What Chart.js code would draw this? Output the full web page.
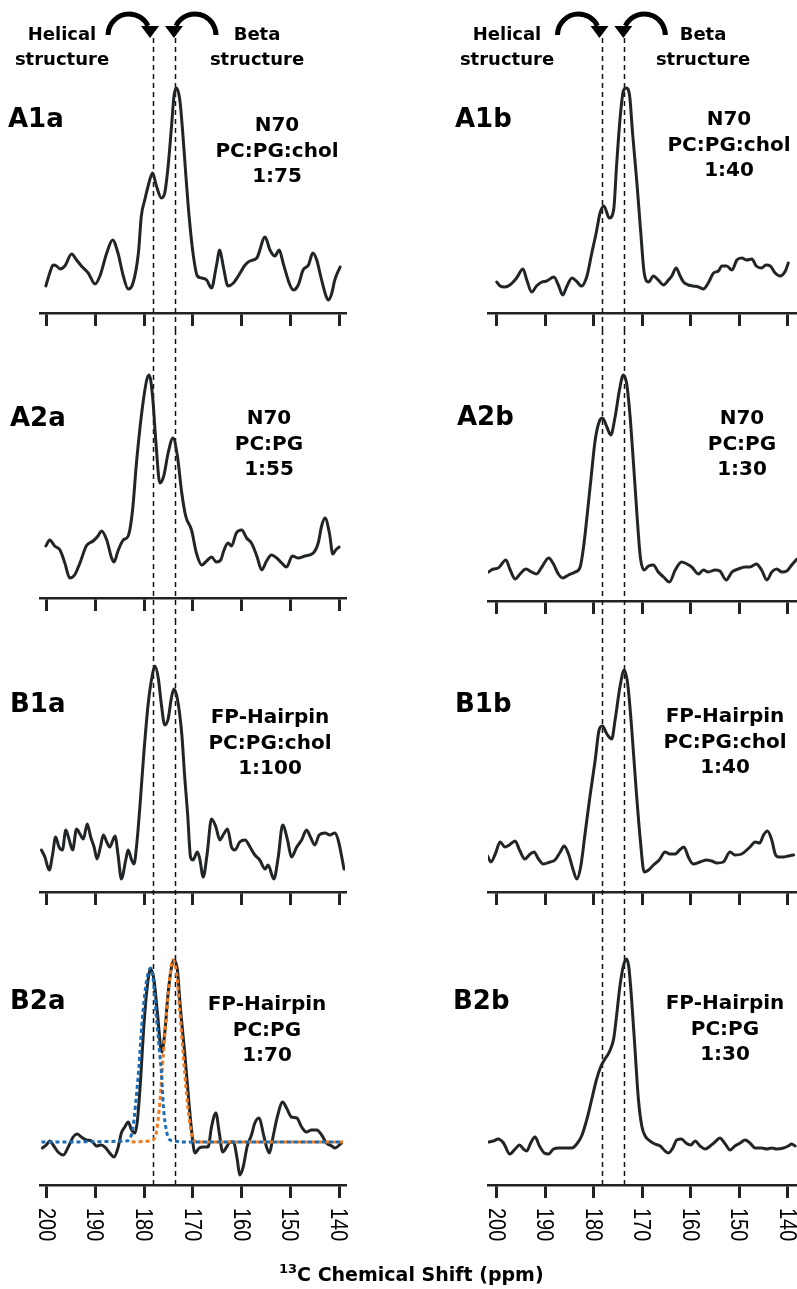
<!DOCTYPE html>
<html>
<head>
<meta charset="utf-8">
<script src="https://cdn.jsdelivr.net/npm/chart.js@4.4.1/dist/chart.umd.min.js"></script>
<style>
  body { margin: 0; background: #fff; width: 797px; height: 1289px; position: relative; overflow: hidden; }
  canvas { position: absolute; }
  .t { position: absolute; font-family: "DejaVu Sans", sans-serif; font-weight: bold; color: #000; white-space: nowrap; z-index: 2; }
  .hd { font-size: 18px; line-height: 25px; width: 220px; text-align: center; }
  .lbl { font-size: 26px; line-height: 26px; }
  .note { font-size: 20px; line-height: 25.5px; width: 220px; text-align: center; }
  .axt { font-size: 19px; line-height: 19px; }
</style>
</head>
<body>

<div class="t hd" style="left:-48px;top:21px">Helical<br>structure</div>
<div class="t hd" style="left:147px;top:21px">Beta<br>structure</div>
<div class="t hd" style="left:397px;top:21px">Helical<br>structure</div>
<div class="t hd" style="left:593px;top:21px">Beta<br>structure</div>

<div class="t lbl" style="left:8px;top:105px">A1a</div>
<div class="t lbl" style="left:455px;top:105px">A1b</div>
<div class="t lbl" style="left:10px;top:404px">A2a</div>
<div class="t lbl" style="left:457px;top:403px">A2b</div>
<div class="t lbl" style="left:10px;top:690px">B1a</div>
<div class="t lbl" style="left:455px;top:690px">B1b</div>
<div class="t lbl" style="left:10px;top:987px">B2a</div>
<div class="t lbl" style="left:453px;top:987px">B2b</div>

<div class="t note" style="left:167px;top:112px">N70<br>PC:PG:chol<br>1:75</div>
<div class="t note" style="left:619px;top:106px">N70<br>PC:PG:chol<br>1:40</div>
<div class="t note" style="left:159px;top:405px">N70<br>PC:PG<br>1:55</div>
<div class="t note" style="left:632px;top:405px">N70<br>PC:PG<br>1:30</div>
<div class="t note" style="left:160px;top:704px">FP-Hairpin<br>PC:PG:chol<br>1:100</div>
<div class="t note" style="left:615px;top:703px">FP-Hairpin<br>PC:PG:chol<br>1:40</div>
<div class="t note" style="left:157px;top:991px">FP-Hairpin<br>PC:PG<br>1:70</div>
<div class="t note" style="left:615px;top:990px">FP-Hairpin<br>PC:PG<br>1:30</div>

<div class="t axt" style="left:279px;top:1265px"><span style="font-size:13px;position:relative;top:-8px">13</span>C Chemical Shift (ppm)</div>

<script>
// x axis ticks (ppm) and the two reference positions (helix / beta)
const tickValues = [200, 190, 180, 170, 160, 150, 140];
const markerShifts = [178.2, 173.7];

// A1a  N70  PC:PG:chol 1:75
const a1aShift = [200.2,199.4,198.7,198.0,197.3,196.3,194.9,193.9,192.9,191.5,190.1,189.1,187.7,186.5,185.4,184.3,183.3,182.3,181.2,180.6,179.9,179.2,178.3,177.5,176.5,175.8,175.1,174.4,173.9,173.4,172.7,172.1,171.5,170.8,170.0,169.1,168.2,167.2,166.2,165.2,164.5,163.8,162.8,161.7,160.7,159.3,158.3,156.9,155.2,154.2,153.2,152.3,151.5,150.1,149.4,148.4,147.4,146.3,145.4,144.6,143.8,142.7,142.2,141.5,140.9,139.8];
const a1aInt = [27,40,48,47,44,47,59,53,47,40,29,37,60,73,60,37,24,30,60,97,113,127,140,127,115,120,147,187,217,225,213,180,140,97,60,37,35,33,25,47,63,47,27,30,37,48,52,55,76,63,57,63,50,28,23,28,43,48,60,53,37,17,13,20,33,46];

// A1b  N70  PC:PG:chol 1:40
const a1bShift = [200.0,199.3,198.3,197.3,195.9,194.6,193.8,192.8,191.8,190.7,189.7,188.2,187.3,186.4,185.6,184.5,183.6,182.5,181.4,180.4,179.5,178.7,177.9,176.8,175.9,175.3,174.6,173.9,173.3,172.6,172.0,171.1,170.3,169.6,168.7,167.7,166.7,165.6,164.6,163.9,163.0,162.2,161.5,160.5,159.5,158.4,157.4,156.4,155.3,154.3,153.6,152.6,151.5,150.5,149.5,148.5,147.4,146.5,145.4,144.5,143.6,142.6,141.6,140.5,139.9];
const a1bInt = [31,27,26,28,35,44,33,21,27,31,32,36,28,18,26,35,32,27,37,60,80,100,107,95,103,147,193,222,225,217,180,130,80,40,31,37,33,28,33,37,45,37,31,28,27,26,24,30,40,42,47,47,43,53,55,53,54,47,45,48,47,40,37,42,50];

// A2a  N70  PC:PG 1:55
const a2aShift = [200.2,199.4,198.4,197.3,196.3,195.3,194.3,193.2,191.9,190.5,189.5,188.8,187.7,186.7,186.2,185.4,184.3,183.3,182.4,181.6,180.6,179.5,179.0,178.3,177.6,176.8,176.0,175.1,174.1,173.2,172.3,171.5,170.3,169.3,168.2,167.2,166.2,165.2,164.3,163.7,162.8,162.1,161.1,160.0,159.0,158.0,156.9,155.9,154.9,153.9,152.8,151.8,150.8,149.6,148.4,147.0,145.3,144.3,143.6,142.9,142.0,141.3,140.7,140.0];
const a2aInt = [52,58,52,48,35,20,23,35,52,57,62,67,58,40,36,47,58,62,88,135,182,218,223,202,155,115,122,145,160,142,105,82,68,45,33,37,41,36,38,47,55,52,65,68,60,55,42,28,37,43,40,35,31,42,40,42,45,55,72,80,65,44,48,51];

// A2b  N70  PC:PG 1:30
const a2bShift = [201.7,200.7,199.7,198.1,197.3,196.2,195.2,194.0,192.8,191.8,190.7,189.3,188.3,187.3,186.4,185.2,183.8,182.8,182.1,181.4,180.6,179.7,178.9,178.2,177.3,176.5,175.6,174.7,173.9,173.2,172.5,171.8,171.1,170.4,169.6,168.7,167.7,166.7,165.6,164.4,163.2,161.9,160.8,159.8,158.4,157.4,156.4,155.0,154.0,152.7,151.5,150.2,148.8,147.8,146.5,145.4,144.3,143.3,142.3,141.2,140.2,139.2,138.1];
const a2bInt = [29,32,33,41,32,22,27,32,29,27,34,43,37,27,23,26,29,34,54,84,121,161,179,183,174,166,184,211,226,217,184,137,87,44,31,35,36,29,24,19,31,39,37,34,27,31,29,31,30,21,29,32,34,34,37,31,21,29,32,29,30,36,42];

// B1a  FP-Hairpin  PC:PG:chol 1:100
const b1aShift = [201.1,200.4,199.5,198.8,198.2,197.5,196.8,196.1,195.4,194.7,193.9,193.2,192.5,191.7,191.0,190.3,189.7,189.0,188.4,187.7,187.1,186.0,185.4,184.7,183.8,183.3,182.6,182.1,181.6,180.9,180.1,179.2,178.3,177.8,177.1,176.5,175.8,175.1,174.4,173.9,173.2,172.3,171.7,171.1,170.5,170.0,169.1,168.6,167.9,167.1,166.2,165.3,164.5,163.7,162.9,162.1,161.4,160.4,159.3,158.3,157.3,156.3,155.2,154.6,153.4,152.5,151.6,150.6,149.8,148.7,147.7,146.7,145.9,145.0,144.1,142.9,141.9,140.9,140.2,139.0];
const b1aInt = [42,35,22,38,55,45,42,62,52,42,63,58,53,68,55,45,33,45,57,50,45,56,38,13,32,42,32,28,45,85,138,188,218,226,213,188,167,173,195,203,193,158,115,78,35,32,40,33,15,38,73,65,52,58,63,45,42,50,52,45,37,32,23,27,13,35,67,52,35,45,52,62,55,47,57,59,57,59,52,23];

// B1b  FP-Hairpin  PC:PG:chol 1:40
const b1bShift = [201.9,201.2,200.3,199.3,198.3,197.4,196.2,195.3,194.2,193.1,192.3,191.4,190.4,189.0,188.0,186.9,186.1,185.2,184.3,183.5,182.7,181.8,180.8,179.7,178.9,178.2,177.3,176.3,175.6,174.6,173.7,173.0,172.2,171.3,170.4,169.6,168.7,167.7,166.5,165.3,164.3,163.2,162.3,161.4,160.5,159.5,158.1,156.7,155.7,154.6,153.3,151.9,150.9,149.5,147.8,146.7,145.8,145.0,144.2,143.3,142.6,141.9,140.9,139.9,138.8];
const b1bInt = [36,30,38,50,45,47,51,42,33,38,40,33,28,30,32,40,46,38,23,13,25,58,95,132,162,166,158,153,172,205,222,208,165,105,52,20,22,27,32,40,38,38,42,45,35,28,30,32,31,29,30,40,37,38,45,50,49,57,61,52,38,35,35,36,37];

// B2a  FP-Hairpin  PC:PG 1:70, with the two fitted components
const b2aShift = [200.9,200.1,199.4,198.7,197.7,196.6,195.6,194.6,193.8,192.9,191.9,190.8,189.8,188.8,187.9,187.1,186.2,185.4,184.7,184.0,183.3,182.6,181.9,181.4,180.8,180.1,179.4,178.7,178.0,177.3,176.4,175.8,175.1,174.4,173.9,173.2,172.6,171.7,171.0,170.3,169.6,168.7,167.9,166.9,166.2,165.3,164.6,163.9,163.1,162.4,161.7,160.9,160.4,159.7,158.9,158.0,157.3,156.4,155.6,154.9,154.3,153.7,152.7,151.6,150.8,149.8,148.7,147.7,146.7,145.7,144.6,143.6,142.6,141.5,140.9,139.5];
const b2aInt = [37,40,44,40,33,30,38,48,51,48,45,44,39,40,37,32,28,37,52,58,63,55,52,65,102,158,198,216,205,172,133,152,192,218,225,215,178,132,92,55,32,37,38,38,58,72,52,33,38,43,43,25,10,18,38,50,62,67,52,38,32,45,68,83,77,68,67,58,53,55,55,50,42,39,37,42];
const b2aHelixShift = [201.1,183.6,183.0,182.4,181.8,181.1,180.5,179.8,179.2,178.7,178.2,177.5,176.8,176.4,176.1,175.4,174.7,173.7,172.3,139.2];
const b2aHelixInt = [43,44,46,55,80,118,160,195,212,217,207,167,130,107,80,53,45,44,43,43];
const b2aBetaShift = [182.6,178.9,178.2,177.5,176.8,176.1,175.4,174.7,174.2,173.4,172.7,172.0,171.3,170.6,169.9,169.0,139.2];
const b2aBetaInt = [43,44,45,53,83,130,173,210,225,213,173,130,90,60,45,43,43];

// B2b  FP-Hairpin  PC:PG 1:30
const b2bShift = [201.7,200.7,199.7,198.6,197.3,196.2,195.3,194.5,193.8,193.0,192.1,191.2,190.2,189.3,188.3,187.1,185.9,184.5,183.5,182.5,181.4,180.4,179.4,178.5,177.7,176.8,175.9,175.3,174.6,173.9,173.3,172.8,172.2,171.5,170.8,170.1,169.4,168.4,167.4,166.3,165.3,164.6,163.7,162.9,161.9,161.0,160.0,159.1,158.1,157.0,156.0,155.0,154.0,152.9,151.9,150.9,149.8,148.8,147.8,146.7,145.4,144.3,143.3,142.3,140.9,139.9,139.2,138.5];
const b2bInt = [43,44,46,42,31,36,40,36,34,42,48,39,32,31,36,37,37,37,41,49,66,86,106,119,126,133,146,169,199,219,226,219,186,136,86,59,49,44,41,39,34,32,37,45,46,42,40,44,39,36,39,43,47,41,35,39,42,45,42,37,37,36,37,36,37,39,41,39];

const INK = '#222527';
const HELIX = '#1b6cb4';
const BETA = '#f07a1f';
const TICK = 13;

const columns = [
  { left: 0, width: 400, padLeft: 40, padRight: 55, min: 138.8, max: 201.4 },
  { left: 400, width: 397, padLeft: 88, padRight: 0, min: 138.1, max: 201.8 }
];
const rows = [
  { top: 0, height: 330, padTop: 40 },
  { top: 330, height: 290, padTop: 0 },
  { top: 620, height: 290, padTop: 0 },
  { top: 910, height: 379, padTop: 0 }
];

function series(shift, int, color, dash) {
  return {
    data: shift.map((v, i) => ({ x: v, y: int[i] })),
    borderColor: color,
    borderWidth: 3,
    borderDash: dash || [],
    borderCapStyle: dash ? 'butt' : 'round',
    borderJoinStyle: 'round',
    pointRadius: 0,
    fill: false,
    cubicInterpolationMode: 'monotone'
  };
}

const panels = [
  { row: 0, col: 0, axis: 313, sets: [series(a1aShift, a1aInt, INK)] },
  { row: 0, col: 1, axis: 313, sets: [series(a1bShift, a1bInt, INK)] },
  { row: 1, col: 0, axis: 598, sets: [series(a2aShift, a2aInt, INK)] },
  { row: 1, col: 1, axis: 601, sets: [series(a2bShift, a2bInt, INK)] },
  { row: 2, col: 0, axis: 892, sets: [series(b1aShift, b1aInt, INK)] },
  { row: 2, col: 1, axis: 892, sets: [series(b1bShift, b1bInt, INK)] },
  { row: 3, col: 0, axis: 1185, sets: [
      series(b2aHelixShift, b2aHelixInt, HELIX, [4, 3]),
      series(b2aBetaShift, b2aBetaInt, BETA, [4, 3]),
      series(b2aShift, b2aInt, INK)] },
  { row: 3, col: 1, axis: 1185, sets: [series(b2bShift, b2bInt, INK)] }
];

// dashed reference lines, curved arrows (top row) and rotated tick labels (bottom row)
const overlay = {
  id: 'overlay',
  beforeDatasetsDraw(chart, args, opts) {
    const ctx = chart.ctx, x = chart.scales.x, area = chart.chartArea;
    const y0 = opts.fromArea ? area.top - 2 : 0;
    const y1 = opts.toAxis ? area.bottom : chart.height;
    ctx.save();
    ctx.strokeStyle = '#111';
    ctx.lineWidth = 1.5;
    ctx.setLineDash([5, 4]);
    markerShifts.forEach(v => {
      const px = Math.round(x.getPixelForValue(v)) + 0.5;
      ctx.beginPath();
      ctx.moveTo(px, y0);
      ctx.lineTo(px, y1);
      ctx.stroke();
    });
    ctx.restore();
  },
  afterDraw(chart, args, opts) {
    const ctx = chart.ctx, x = chart.scales.x, area = chart.chartArea;
    if (opts.arrows) {
      const tipY = area.top - 2;
      const cy = tipY - 3;
      const tipL = x.getPixelForValue(markerShifts[0]) - 3;
      const tipR = x.getPixelForValue(markerShifts[1]) - 1;
      ctx.save();
      ctx.strokeStyle = '#000';
      ctx.fillStyle = '#000';
      ctx.lineWidth = 5;
      ctx.beginPath();
      ctx.arc(tipL - 21, cy, 21, Math.PI, 2 * Math.PI - 0.45);
      ctx.stroke();
      ctx.beginPath();
      ctx.arc(tipR + 21, cy, 21, Math.PI + 0.45, 2 * Math.PI);
      ctx.stroke();
      [tipL, tipR].forEach(tx => {
        ctx.beginPath();
        ctx.moveTo(tx - 9, tipY - 12);
        ctx.lineTo(tx + 9, tipY - 12);
        ctx.lineTo(tx, tipY);
        ctx.closePath();
        ctx.fill();
      });
      ctx.restore();
    }
    if (opts.labels) {
      ctx.save();
      ctx.fillStyle = '#000';
      ctx.font = '20px "Liberation Sans", Arial, sans-serif';
      ctx.textAlign = 'left';
      ctx.textBaseline = 'alphabetic';
      x.ticks.forEach(t => {
        const px = x.getPixelForValue(t.value);
        ctx.save();
        ctx.translate(px, area.bottom + TICK + 10);
        ctx.rotate(Math.PI / 2);
        ctx.scale(1, 1.15);
        ctx.fillText(String(t.value), 0, 7.1);
        ctx.restore();
      });
      ctx.restore();
    }
  }
};

panels.forEach(p => {
  const r = rows[p.row], c = columns[p.col];
  const axisLocal = p.axis - r.top;
  const padBottom = r.height - axisLocal - TICK;
  const canvas = document.createElement('canvas');
  canvas.width = c.width;
  canvas.height = r.height;
  canvas.style.left = c.left + 'px';
  canvas.style.top = r.top + 'px';
  document.body.appendChild(canvas);

  new Chart(canvas, {
    type: 'line',
    data: { datasets: p.sets },
    options: {
      responsive: false,
      animation: false,
      devicePixelRatio: 1,
      layout: { padding: { top: r.padTop, bottom: padBottom, left: c.padLeft, right: c.padRight } },
      plugins: {
        legend: { display: false },
        tooltip: { enabled: false },
        overlay: { fromArea: p.row === 0, toAxis: p.row === 3, arrows: p.row === 0, labels: p.row === 3 }
      },
      scales: {
        x: {
          type: 'linear',
          reverse: true,
          min: c.min,
          max: c.max,
          afterBuildTicks: s => { s.ticks = tickValues.map(v => ({ value: v })); },
          ticks: { display: false },
          grid: { drawOnChartArea: false, drawTicks: true, tickLength: TICK, lineWidth: 3, color: '#222' },
          border: { display: true, width: 2.4, color: '#222' }
        },
        y: { display: false, min: 0, max: axisLocal - r.padTop }
      }
    },
    plugins: [overlay]
  });
});
</script>
</body>
</html>
